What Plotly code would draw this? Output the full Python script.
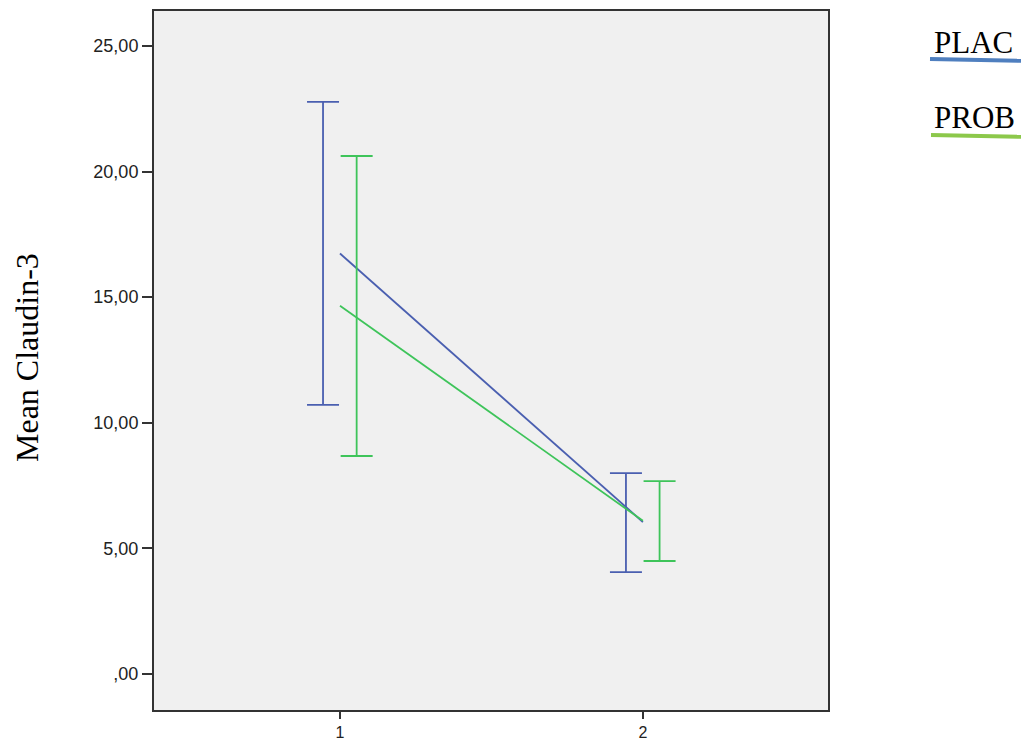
import plotly.graph_objects as go

# ---- data ----
timepoints = [1, 2]
tick_labels = ["1", "2"]
groups = ["PLAC", "PROB"]
means_plac = [16.74, 6.05]
means_prob = [14.66, 6.10]
upper_plac = [22.77, 8.00]
lower_plac = [10.71, 4.06]
upper_prob = [20.62, 7.68]
lower_prob = [8.68, 4.50]
y_ticks = [0, 5, 10, 15, 20, 25]
y_tick_labels = [",00", "5,00", "10,00", "15,00", "20,00", "25,00"]

BLUE = "#4a5fb0"
GREEN = "#3ec45a"
LEG_BLUE = "#4f7fbf"
LEG_GREEN = "#8cc84b"

fig = go.Figure()

series = [
    (means_plac, upper_plac, lower_plac, BLUE, -0.056),
    (means_prob, upper_prob, lower_prob, GREEN, 0.055),
]

for means, up, lo, col, off in series:
    fig.add_trace(go.Scatter(x=timepoints, y=means, mode="lines",
                             line=dict(color=col, width=1.8),
                             showlegend=False, hoverinfo="skip"))
    fig.add_trace(go.Scatter(
        x=[t + off for t in timepoints],
        y=[(u + l) / 2 for u, l in zip(up, lo)],
        mode="markers", marker=dict(size=1, opacity=0),
        error_y=dict(type="data", symmetric=False,
                     array=[u - (u + l) / 2 for u, l in zip(up, lo)],
                     arrayminus=[(u + l) / 2 - l for u, l in zip(up, lo)],
                     color=col, thickness=1.8, width=16),
        showlegend=False, hoverinfo="skip"))

OFF = 8  # page body margin
W, H = 1029 - OFF, 744 - OFF
L, T = 154 - OFF, 11 - OFF
R = W - (828 - OFF)
B = H - (710 - OFF)
pw, ph = W - L - R, H - T - B

def px(x):
    return (x - OFF - L) / pw

def py(y):
    return (H - B - (y - OFF)) / ph

SERIF = "Liberation Serif, Times New Roman, serif"
shapes = [
    dict(type="line", xref="paper", yref="paper",
         x0=px(930), x1=px(1029), y0=py(59), y1=py(61),
         line=dict(color=LEG_BLUE, width=4)),
    dict(type="line", xref="paper", yref="paper",
         x0=px(931), x1=px(1029), y0=py(135), y1=py(137),
         line=dict(color=LEG_GREEN, width=4)),
]
annotations = [
    dict(text=groups[0], xref="paper", yref="paper", x=px(932), y=py(42),
         xanchor="left", yanchor="middle", showarrow=False,
         font=dict(family=SERIF, size=31, color="#000")),
    dict(text=groups[1], xref="paper", yref="paper", x=px(932), y=py(117),
         xanchor="left", yanchor="middle", showarrow=False,
         font=dict(family=SERIF, size=31, color="#000")),
    dict(text="Mean Claudin-3", xref="paper", yref="paper", x=px(27), y=py(357),
         xanchor="center", yanchor="middle", textangle=-90, showarrow=False,
         font=dict(family=SERIF, size=32, color="#000")),
]

fig.update_layout(
    width=W, height=H,
    margin=dict(l=L, r=R, t=T, b=B, pad=0, autoexpand=False),
    paper_bgcolor="white", plot_bgcolor="#f0f0f0",
    shapes=shapes, annotations=annotations,
    font=dict(family="Liberation Sans, Arial, sans-serif", size=18, color="#222"),
)
fig.update_xaxes(range=[0.386, 2.611], tickvals=timepoints, ticktext=tick_labels,
                 showgrid=False, zeroline=False, showline=True, mirror=True,
                 linecolor="#333", linewidth=2, ticks="outside", ticklen=7,
                 tickcolor="#333", tickwidth=2, automargin=False,
                 tickfont=dict(size=16))
fig.update_yaxes(range=[-1.43, 26.39], tickvals=y_ticks, ticktext=y_tick_labels,
                 showgrid=False, zeroline=False, showline=True, mirror=True,
                 linecolor="#333", linewidth=2, ticks="outside", ticklen=10,
                 tickcolor="#333", tickwidth=2, automargin=False)

fig.write_html("out.html")
